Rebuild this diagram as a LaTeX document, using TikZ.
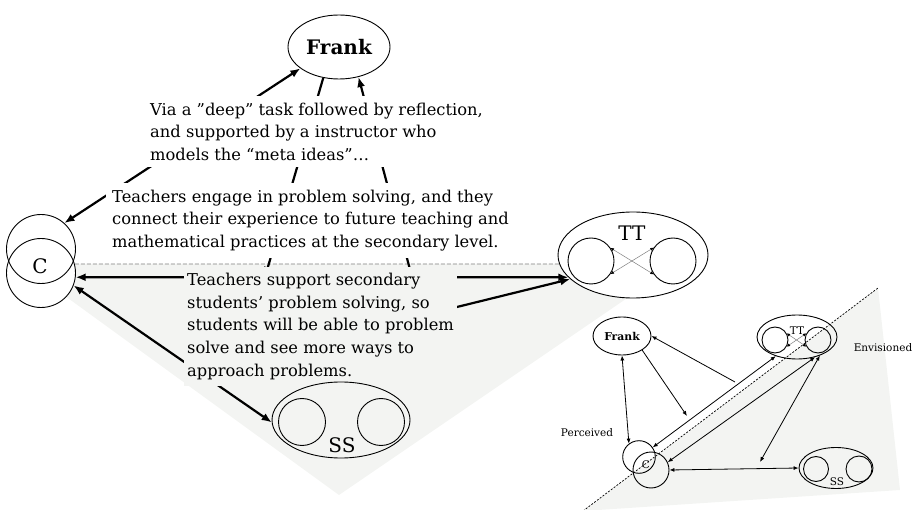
\documentclass[tikz,border=0pt]{standalone}
\usepackage{fontspec}
\setmainfont{DejaVu Serif}
\usetikzlibrary{arrows.meta,shapes.geometric}
\pgfdeclarelayer{bg}
\pgfdeclarelayer{links}
\pgfsetlayers{bg,links,main}
\definecolor{paleg}{RGB}{243,244,242}
\tikzset{
  ring/.style={circle, draw, line width=0.9pt, inner sep=0pt},
  oval/.style={ellipse, draw, line width=0.9pt, inner sep=0pt},
  lab/.style={inner sep=0pt, font=\fontsize{20}{24}\selectfont},
  smalllab/.style={inner sep=0pt, font=\fontsize{10.5}{12}\selectfont},
  txt/.style={align=left, anchor=north west, inner xsep=6pt, inner ysep=6.6pt,
    font=\fontsize{16.3}{22.6}\selectfont},
  biglink/.style={line width=2.2pt, >={Latex[length=10pt,width=8pt]}},
  smalllink/.style={line width=0.8pt, >={Latex[length=5pt,width=4pt]}},
  crosslink/.style={gray, line width=0.5pt, >={Latex[length=3.5pt,width=3pt,color=black]}},
}
\begin{document}
\begin{tikzpicture}[x=1pt, y=-1pt]
  \useasboundingbox (0,0) rectangle (921,510);
  % --- large diagram: texts ---
  \node[txt, fill=white] (via) at (144,96)
    {Via a ”deep” task followed by reflection,\\
     and supported by a instructor who\\
     models the “meta ideas”…};
  \node[txt, fill=white] (engage) at (106,183)
    {Teachers engage in problem solving, and they\\
     connect their experience to future teaching and\\
     mathematical practices at the secondary level.};
  \node[txt, fill=paleg, inner xsep=3pt] (support) at (184,266.5)
    {Teachers support secondary\\
     students’ problem solving, so\\
     students will be able to problem\\
     solve and see more ways to\\
     approach problems.};
  % --- large diagram: nodes ---
  \node[oval, minimum width=102pt, minimum height=64pt,
    font=\bfseries\fontsize{20}{24}\selectfont] (frank) at (339,47) {Frank};
  \node[ring, minimum size=69pt] (cup) at (41,249) {};
  \node[ring, minimum size=69pt] (clow) at (41,273) {};
  \node[lab] (clab) at (40,266) {C};
  \node[oval, minimum width=150pt, minimum height=86pt] (tt) at (633,255) {};
  \node[ring, minimum size=46pt] (ttl) at (591,261) {};
  \node[ring, minimum size=46pt] (ttr) at (673,261) {};
  \node[lab] (ttlab) at (632,233) {TT};
  \node[oval, minimum width=138pt, minimum height=76pt] (ss) at (341,420) {};
  \node[ring, minimum size=47pt] (ssl) at (302,422) {};
  \node[ring, minimum size=47pt] (ssr) at (381,422) {};
  \node[lab] (sslab) at (342,445) {SS};
  \coordinate (ctA) at (265,277);
  \coordinate (ctB) at (412,277);
  \coordinate (csM) at (197,371);
  % --- small diagram: nodes ---
  \node[oval, minimum width=58pt, minimum height=38pt,
    font=\bfseries\fontsize{10.8}{12}\selectfont] (frank2) at (622,336) {Frank};
  \node[oval, minimum width=80pt, minimum height=44pt] (tt2) at (797,337) {};
  \node[ring, minimum size=26pt] (tt2l) at (775,340) {};
  \node[ring, minimum size=26pt] (tt2r) at (818,340) {};
  \node[smalllab] (tt2lab) at (797,331) {TT};
  \node[ring, minimum size=32.6pt] (c2a) at (639,457) {};
  \node[ring, minimum size=36pt] (c2b) at (651,470) {};
  \node[smalllab] (c2lab) at (646,465) {C};
  \node[oval, minimum width=74pt, minimum height=41pt] (ss2) at (836,468) {};
  \node[ring, minimum size=25pt] (ss2l) at (816,469) {};
  \node[ring, minimum size=26pt] (ss2r) at (859,469) {};
  \node[smalllab] (ss2lab) at (837,482) {SS};
  \node[smalllab] (perc) at (587,433) {Perceived};
  \node[smalllab] (envi) at (883,348) {Envisioned};
  \coordinate (dotA) at (583,511);
  \coordinate (dotB) at (878,288);
  \coordinate (fm) at (687,416);
  \coordinate (fn) at (735,382);
  \coordinate (csm2) at (760,462);
  % --- shaded areas ---
  \begin{pgfonlayer}{bg}
    \fill[paleg] (21,264) -- (677,264) -- (339,495) -- cycle;
    \fill[paleg] (dotA) -- (dotB) -- (900,490) -- cycle;
    \fill[white] (cup.center) circle[radius=34.5pt];
    \fill[white] (clow.center) circle[radius=34.5pt];
    \fill[white] (tt.center) ellipse[x radius=75pt, y radius=43pt];
  \end{pgfonlayer}
  % --- connectors ---
  \begin{pgfonlayer}{links}
    \draw[gray, line width=0.8pt, dash pattern=on 4pt off 2pt] (clow.15) -- (tt.187);
    \draw[biglink,<->] (cup.48) -- (frank.209);
    \draw[biglink,->] (frank.243) -- (ctA);
    \draw[biglink,->] (ctB) -- (frank.303);
    \draw[biglink,<->] (clow.-7) -- (tt.199);
    \draw[biglink,<->] (clow.-21) -- (ss.182);
    \draw[biglink,<->] (csM) -- (tt.201);
    \draw[crosslink,<->] (ttl.34) -- (ttr.215);
    \draw[crosslink,<->] (ttl.-34) -- (ttr.145);
    % small diagram
    \draw[line width=0.7pt, dash pattern=on 2pt off 1.5pt] (dotA) -- (dotB);
    \draw[smalllink,<->] (frank2.270) -- (c2a.127);
    \draw[smalllink,->] (frank2.-35) -- (fm);
    \draw[smalllink,->] (fn) -- (frank2.east);
    \draw[smalllink,<->] (c2a.35) -- (tt2.222);
    \draw[smalllink,<->] (c2b.25) -- (tt2.-48);
    \draw[smalllink,<->] (csm2) -- (tt2.-39);
    \draw[smalllink,<->] (c2b.east) -- (ss2.west);
    \draw[crosslink,<->] (tt2l.30) -- (tt2r.210);
    \draw[crosslink,<->] (tt2l.-30) -- (tt2r.150);
  \end{pgfonlayer}
\end{tikzpicture}
\end{document}
